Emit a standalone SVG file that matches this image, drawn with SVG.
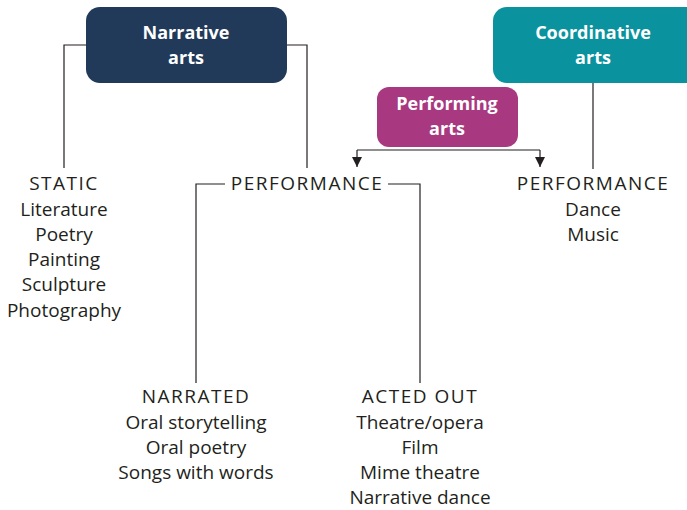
<svg xmlns="http://www.w3.org/2000/svg" width="687" height="510" viewBox="0 0 687 510">
<style>
.box-t{font-family:"Open Sans","Noto Sans",sans-serif;font-weight:bold;font-size:18px;fill:#ffffff;text-anchor:middle}
.t{font-family:"Open Sans","Noto Sans",sans-serif;font-size:19px;fill:#231f20;text-anchor:middle}
.cap{letter-spacing:1.5px}
.ln{fill:none;stroke:#231f20;stroke-width:1.2}
</style>
<defs>
<marker id="ah" viewBox="0 0 10 10" refX="10" refY="5" markerWidth="10" markerHeight="10" markerUnits="userSpaceOnUse" orient="auto">
<path d="M0,0 L10,5 L0,10 Z" fill="#231f20"/>
</marker>
</defs>
<g id="connectors">
<path class="ln" d="M86,45 H64 V168"/>
<path class="ln" d="M287,45 H307 V168"/>
<path class="ln" d="M593,83 V169"/>
<path class="ln" d="M357,150 H540"/>
<path class="ln" d="M357,150 V167" marker-end="url(#ah)"/>
<path class="ln" d="M540,150 V167" marker-end="url(#ah)"/>
<path class="ln" d="M225,184 H196 V383"/>
<path class="ln" d="M388,184 H420 V383"/>
</g>
<g id="narrative-arts">
<rect x="86" y="7" width="201" height="76" rx="14" fill="#213a5a"/>
<text class="box-t" x="186" y="39">Narrative</text>
<text class="box-t" x="186" y="64">arts</text>
</g>
<g id="coordinative-arts">
<rect x="493" y="7" width="210" height="76" rx="14" fill="#0a929e"/>
<text class="box-t" x="593" y="39">Coordinative</text>
<text class="box-t" x="593" y="64">arts</text>
</g>
<g id="performing-arts">
<rect x="377" y="87" width="141" height="60" rx="12" fill="#a8387f"/>
<text class="box-t" x="447" y="110">Performing</text>
<text class="box-t" x="447" y="135">arts</text>
</g>
<g id="static">
<text class="t cap" x="64" y="190">STATIC</text>
<text class="t" x="64" y="216">Literature</text>
<text class="t" x="64" y="241">Poetry</text>
<text class="t" x="64" y="266">Painting</text>
<text class="t" x="64" y="291">Sculpture</text>
<text class="t" x="64" y="317">Photography</text>
</g>
<g id="performance-mid">
<text class="t cap" x="307" y="190">PERFORMANCE</text>
</g>
<g id="performance-right">
<text class="t cap" x="593" y="190">PERFORMANCE</text>
<text class="t" x="593" y="216">Dance</text>
<text class="t" x="593" y="241">Music</text>
</g>
<g id="narrated">
<text class="t cap" x="196" y="403">NARRATED</text>
<text class="t" x="196" y="429">Oral storytelling</text>
<text class="t" x="196" y="454">Oral poetry</text>
<text class="t" x="196" y="479">Songs with words</text>
</g>
<g id="acted-out">
<text class="t cap" x="420" y="403">ACTED OUT</text>
<text class="t" x="420" y="429">Theatre/opera</text>
<text class="t" x="420" y="454">Film</text>
<text class="t" x="420" y="479">Mime theatre</text>
<text class="t" x="420" y="504">Narrative dance</text>
</g>
</svg>
